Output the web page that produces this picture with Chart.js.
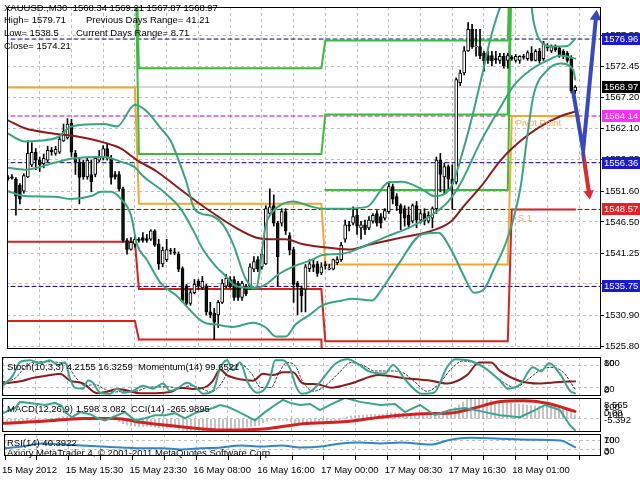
<!DOCTYPE html>
<html>
<head>
<meta charset="utf-8">
<script src="https://cdn.jsdelivr.net/npm/chart.js@4.4.1/dist/chart.umd.min.js"></script>
<style>
  body { margin:0; background:#fff; width:640px; height:480px; overflow:hidden; position:relative; }
  canvas { position:absolute; left:0; }
  .txt { position:absolute; font-family:Tahoma,"Liberation Sans",sans-serif; font-size:9.5px; color:#000; white-space:pre; line-height:12px; }
</style>
</head>
<body>
<canvas id="main" width="640" height="356" style="top:0px"></canvas>
<canvas id="stoch" width="640" height="41" style="top:356px"></canvas>
<canvas id="macd" width="640" height="36" style="top:397px"></canvas>
<canvas id="rsi" width="640" height="47" style="top:433px"></canvas>

<div class="txt" style="left:4px;top:2px">XAUUSD.,M30  1568.34 1569.21 1567.87 1568.97</div>
<div class="txt" style="left:4px;top:14px">High= 1579.71</div>
<div class="txt" style="left:86px;top:14px">Previous Days Range= 41.21</div>
<div class="txt" style="left:4px;top:27px">Low= 1538.5</div>
<div class="txt" style="left:76px;top:27px">Current Days Range= 8.71</div>
<div class="txt" style="left:4px;top:40px">Close= 1574.21</div>
<div class="txt" style="left:7px;top:361px">Stoch(10,3,3) 4.2155 16.3259  Momentum(14) 99.6521</div>
<div class="txt" style="left:7px;top:403px">MACD(12,26,9) 1.598 3.082  CCI(14) -265.9895</div>
<div class="txt" style="left:7px;top:437px">RSI(14) 40.3922</div>
<div class="txt" style="left:7px;top:447px">Axiory MetaTrader 4, © 2001-2011 MetaQuotes Software Corp.</div>

<script>
// ---- price data, M30 bars ----
const opens = [1553.9,1554.0,1553.6,1552.6,1551.6,1554.0,1556.0,1558.1,1556.8,1556.2,
  1556.8,1558.4,1557.9,1558.1,1560.0,1560.5,1562.9,1557.9,1556.5,1556.3,
  1554.0,1554.4,1554.4,1556.8,1557.1,1558.7,1557.1,1554.4,1554.4,1552.0,
  1543.4,1541.9,1542.8,1543.6,1543.9,1543.7,1543.6,1545.0,1542.8,1539.5,
  1540.2,1541.8,1541.5,1541.1,1538.7,1535.8,1532.9,1534.7,1536.6,1535.5,
  1535.8,1531.5,1531.3,1531.0,1533.1,1535.8,1536.9,1536.9,1536.3,1533.9,
  1535.8,1535.8,1538.6,1540.2,1539.0,1539.5,1547.9,1549.2,1546.3,1546.3,
  1548.2,1544.2,1541.9,1536.3,1535.5,1535.3,1538.7,1539.4,1539.5,1538.0,
  1539.4,1538.6,1538.6,1539.7,1540.2,1543.6,1546.0,1546.3,1547.6,1545.5,
  1546.0,1545.5,1546.6,1547.9,1547.4,1547.1,1548.2,1552.4,1550.7,1549.2,
  1548.7,1547.6,1546.6,1549.2,1546.8,1547.9,1546.6,1547.1,1548.7,1556.8,
  1554.0,1555.7,1553.6,1553.1,1569.7,1571.3,1575.0,1578.6,1575.7,1575.7,
  1574.6,1574.2,1574.2,1573.7,1573.4,1574.1,1573.4,1573.9,1573.4,1573.4,
  1574.1,1573.7,1574.6,1573.4,1574.9,1573.7,1575.7,1575.0,1575.7,1575.4,
  1574.9,1574.6,1573.7,1568.34];
const highs = [1554.2,1554.4,1553.9,1552.9,1554.5,1560.0,1559.7,1558.7,1557.3,1557.8,
  1559.1,1558.9,1559.1,1560.8,1562.8,1563.7,1563.6,1558.4,1557.1,1556.8,
  1557.1,1556.8,1557.4,1558.4,1559.2,1559.5,1557.6,1554.9,1554.9,1552.3,
  1543.7,1543.9,1544.2,1543.9,1544.7,1544.4,1545.2,1545.2,1543.6,1542.3,
  1543.6,1542.1,1542.1,1541.5,1539.0,1536.1,1535.3,1536.9,1536.9,1537.4,
  1536.1,1533.1,1532.1,1533.4,1536.9,1537.7,1537.4,1537.4,1536.6,1536.6,
  1536.1,1539.5,1540.7,1540.7,1541.9,1549.2,1552.0,1551.0,1546.6,1548.7,
  1548.7,1544.7,1542.3,1536.6,1535.8,1539.4,1540.2,1540.3,1539.9,1539.7,
  1539.9,1539.4,1540.3,1540.7,1543.1,1546.8,1546.6,1549.0,1548.7,1546.6,
  1546.8,1547.4,1547.9,1548.4,1547.9,1548.7,1553.1,1552.8,1551.2,1549.5,
  1549.2,1549.0,1549.5,1549.9,1548.4,1548.7,1548.2,1549.0,1557.3,1557.9,
  1556.3,1556.0,1556.0,1570.5,1571.8,1575.7,1579.71,1579.4,1578.6,1578.6,
  1574.9,1574.9,1574.9,1574.9,1574.6,1574.6,1574.6,1574.2,1574.4,1574.2,
  1574.4,1575.0,1575.7,1575.2,1575.4,1576.58,1576.2,1576.0,1576.0,1575.7,
  1575.2,1574.9,1574.2,1569.21];
const lows = [1553.4,1553.6,1547.6,1549.5,1551.3,1553.9,1555.7,1555.2,1554.9,1555.5,
  1556.5,1557.6,1557.6,1557.9,1559.9,1560.3,1557.4,1554.4,1549.5,1553.6,
  1553.6,1551.5,1554.0,1556.5,1556.8,1556.8,1552.8,1553.6,1551.6,1543.1,
  1541.1,1541.8,1542.3,1543.1,1543.1,1543.1,1543.4,1542.4,1538.6,1539.0,
  1539.9,1541.1,1541.0,1538.2,1533.1,1532.7,1532.6,1534.5,1535.3,1535.2,
  1531.0,1530.5,1526.9,1528.9,1532.9,1535.5,1535.5,1533.4,1533.4,1533.4,
  1534.2,1535.3,1538.2,1538.2,1538.6,1539.4,1547.6,1545.8,1535.8,1545.8,
  1544.4,1541.0,1533.1,1531.0,1531.5,1531.5,1538.2,1538.2,1537.4,1537.7,
  1538.6,1538.5,1538.5,1539.4,1539.9,1543.1,1545.0,1546.0,1544.4,1543.6,
  1544.4,1545.2,1546.3,1545.8,1545.5,1546.8,1547.9,1549.5,1548.4,1545.2,
  1545.8,1545.5,1546.3,1545.5,1546.3,1546.0,1546.3,1545.5,1547.9,1551.5,
  1551.2,1552.0,1548.7,1552.8,1569.2,1571.0,1574.9,1575.4,1574.1,1573.7,
  1571.6,1572.9,1572.5,1572.9,1572.9,1572.1,1572.1,1573.4,1573.1,1572.9,
  1573.6,1573.4,1573.3,1573.3,1572.9,1573.4,1575.0,1574.7,1574.9,1573.9,
  1573.7,1573.1,1568.0,1567.87];
const closes = [1553.7,1553.8,1550.8,1550.3,1554.2,1557.9,1558.1,1556.8,1556.0,1557.1,
  1558.4,1558.2,1558.6,1560.3,1561.6,1562.8,1558.1,1556.5,1553.9,1554.0,
  1556.8,1553.2,1557.1,1557.3,1558.7,1557.3,1553.9,1554.0,1552.0,1543.4,
  1541.9,1543.1,1543.6,1543.4,1543.4,1543.4,1545.0,1542.6,1539.5,1541.8,
  1541.9,1541.6,1541.3,1538.6,1533.4,1532.9,1534.7,1536.1,1535.8,1536.6,
  1531.5,1531.0,1529.8,1533.1,1536.3,1537.1,1535.8,1533.9,1533.9,1536.3,
  1534.5,1539.0,1539.9,1538.6,1541.1,1548.7,1549.0,1546.3,1540.7,1548.2,
  1545.0,1541.8,1536.1,1535.7,1534.2,1539.0,1539.5,1538.9,1537.9,1539.0,
  1539.2,1538.8,1540.2,1540.2,1542.6,1546.0,1545.8,1547.4,1545.8,1546.0,
  1545.2,1546.8,1547.6,1546.3,1546.3,1548.4,1552.4,1550.3,1549.2,1547.9,
  1547.1,1546.0,1549.2,1546.8,1547.9,1546.6,1547.6,1548.7,1556.8,1554.4,
  1555.7,1553.6,1552.8,1570.2,1571.3,1575.0,1578.6,1575.7,1575.8,1574.2,
  1573.3,1573.4,1573.3,1573.5,1574.1,1572.5,1574.21,1573.7,1574.1,1574.1,
  1573.9,1574.7,1573.4,1574.9,1573.3,1576.2,1575.5,1575.7,1575.2,1574.2,
  1574.1,1573.4,1568.34,1568.97];

// ---- indicator lines on the price chart: [bar, price] ----
const bandUpper = [[0,1561.2],[4.25,1559.9],[7.5,1560.0],[12.5,1560.6],[16,1562.4],[24.25,1562.8],[27.5,1562.4],
  [32,1566.0],[35,1564.9],[38.5,1562.1],[41,1560.0],[43,1556.8],[45,1553.1],[46.75,1549.0],[48.5,1547.9],
  [51.75,1547.4],[54.25,1546.0],[56.75,1542.8],[60,1536.9],[62.5,1535.5],[65,1546.0],[66.75,1548.2],
  [69.25,1549.5],[71.75,1549.9],[76.75,1549.0],[79.25,1548.7],[84.25,1548.7],[90.5,1549.0],[96,1553.1],
  [99.25,1553.2],[104.25,1552.0],[107.5,1550.8],[111.75,1552.4],[114.25,1557.3],[116.75,1563.3],
  [119.25,1570.2],[121.75,1577.3],[124.25,1582.6],[128,1587.5],[131.75,1583.4],[132.5,1579.9],
  [134.25,1576.6],[137.5,1575.7],[141,1575.8],[143,1577.0]];
const bandMiddle = [[0,1555.5],[4.25,1555.2],[12.5,1556.5],[16.75,1557.1],[24.25,1557.3],[28.5,1556.5],
  [31.75,1555.7],[34.25,1554.0],[39.25,1551.5],[43.5,1548.7],[46.75,1545.0],[49.25,1541.8],[52.5,1539.0],
  [54.25,1537.9],[57.5,1535.8],[61.75,1535.5],[64.25,1535.8],[68.5,1537.9],[71.75,1539.0],[76.75,1540.2],
  [79.25,1541.0],[84.25,1541.2],[91,1542.8],[96,1544.2],[101,1545.5],[106.75,1547.6],[111,1549.9],
  [114.25,1553.1],[119.25,1560.0],[123.5,1564.9],[127.5,1569.2],[131.75,1571.8],[136,1573.4],
  [139.25,1574.2],[143,1573.7]];
const bandLower = [[0,1551.6],[4.25,1550.8],[11.75,1550.7],[16,1550.3],[21,1550.8],[23.5,1551.5],[26,1551.5],
  [28.5,1550.3],[31,1547.6],[32.5,1542.8],[35,1540.2],[38.5,1536.3],[42.5,1534.2],[49.25,1529.8],
  [52.5,1529.4],[56.75,1529.0],[61.75,1529.7],[65,1528.9],[67.5,1527.4],[70,1527.4],[72.5,1529.4],
  [76,1531.0],[79.25,1532.6],[84.25,1533.4],[86.75,1533.7],[91.75,1533.4],[94.25,1535.3],[98.5,1539.5],
  [104.25,1544.4],[108.5,1544.7],[111.75,1541.8],[115,1537.4],[117.5,1534.7],[120,1535.3],[122.5,1538.6],
  [126,1543.9],[129.25,1552.4],[131,1561.2],[132.5,1567.6],[136,1571.8],[139.25,1572.9],[142.5,1571.8],
  [143,1570.2]];
const movingAvg = [[0,1563.4],[4.25,1562.1],[11.75,1561.2],[16.75,1560.8],[24.25,1559.7],[28.5,1558.7],
  [32.5,1556.8],[37.5,1554.9],[42.5,1552.4],[47.5,1549.9],[52.5,1547.6],[57.5,1545.5],[62.5,1543.9],
  [66,1543.6],[70,1543.6],[74.25,1542.8],[79.25,1542.3],[86,1541.9],[91.75,1542.8],[100,1544.0],
  [106.75,1545.0],[111.75,1546.6],[115,1549.2],[119.25,1552.4],[124.25,1556.8],[129.25,1560.0],
  [134.25,1562.4],[139.25,1564.1],[143,1564.9]];

// daily pivot levels, day breaks after bars 32, 79, 126
const pivotPP = [[0,1568.9],[32,1568.9],[33,1549.5],[79,1549.5],[80,1539.4],[126,1539.4],[127,1564.14],[143,1564.14]];
const pivotS1 = [[0,1543.2],[32,1543.2],[33,1535.3],[79,1535.3],[80,1526.6],[126,1526.6],[127,1548.57],[143,1548.57]];
const pivotS2 = [[0,1530.0],[32,1530.0],[33,1526.9],[79,1526.9],[80,1510.0]];
const pivotR1 = [[32,1595.0],[33,1557.8],[79,1557.8],[80,1564.4],[126,1564.4],[127,1595.0]];
const pivotR2 = [[32,1600.0],[33,1572.1],[79,1572.1],[80,1576.7],[126,1576.7],[127,1600.0]];
const pivotM3 = [[80,1551.8],[126,1551.8],[127,1590.0]];

const levelPrices = [1576.96, 1568.97, 1564.14, 1556.36, 1548.57, 1535.75];
const arrowUp = [[142.5,1568.1],[145,1558.4],[148.25,1580.7]];
const arrowDown = [[145,1557.9],[146.5,1551.2]];

const priceTicks = [1525.80,1530.90,1536.15,1541.25,1546.50,1551.60,1556.85,1562.10,1567.20,1572.45,1577.55];
const timeLabels = ['15 May 2012','15 May 15:30','15 May 23:30','16 May 08:00','16 May 16:00','17 May 00:00','17 May 08:30','17 May 16:30','18 May 01:00'];
const timeLabelBars = [0,16,32,48,64,80,96,112,128];

// ---- sub windows ----
const stochMain = [[0,25],[2.5,53],[4.25,89],[6.75,94],[9.25,86],[11.75,94],[13.75,81],[15.5,89],[16.75,44],[18,19],
  [20,17],[21.25,39],[22.5,33],[24.25,6],[26.75,3],[28.5,17],[30,6],[32.5,11],[35,25],[37.5,17],[40,31],[41.75,11],
  [43.5,17],[46,33],[48.5,17],[50,3],[52.5,11],[54.25,72],[56,94],[57.5,67],[59.25,89],[61.25,33],[63.5,6],[65,11],
  [66.75,44],[68,94],[70,94],[71.75,72],[73.5,17],[74.75,3],[76.75,8],[78.5,25],[83.25,86],[86.25,97],[88.5,86],
  [91.5,64],[95.5,58],[97.5,81],[100.75,39],[104.75,3],[107.75,6],[111,75],[113,97],[117,92],[120.25,75],[124.25,39],
  [126.25,17],[129.25,28],[132.5,75],[134.5,64],[136.5,86],[139.5,53],[141.75,11],[143,4.2]];
const stochSignal = [[0,35],[3,45],[5.5,75],[8,90],[11,90],[14,88],[16,82],[18,50],[20.5,25],[23,28],[25.5,15],[28,8],
  [30.5,10],[33,10],[36,20],[39,22],[41.5,22],[44,17],[47,25],[49.5,18],[52,8],[54.5,30],[57,75],[59.5,82],[62,60],
  [64.5,20],[67,20],[69,60],[71,88],[73,80],[75,35],[77.5,10],[80,20],[84,60],[87,88],[90,80],[93,65],[97,65],[100,60],
  [103,35],[106,10],[109,30],[112,70],[115,92],[119,82],[122,60],[125,35],[128,20],[131,40],[134,65],[137,75],[140,62],[143,16.3]];
const momentum = [[0,99.5],[5,99.7],[7.5,99.9],[12,100.1],[14.25,100.2],[16.75,99.7],[20,99.5],[23.5,98.8],[26,98.9],
  [28.5,99.1],[31,99.0],[34.25,98.8],[38,98.8],[42,98.9],[44.25,99.2],[47.5,99.1],[51,99.3],[52.5,99.7],[54.25,100.5],
  [56,100.1],[59.25,99.8],[62.5,99.7],[65,100.2],[67.5,100.1],[70,100.3],[72.5,100.3],[75,99.5],[78.5,99.45],[82,99.2],
  [87,99.5],[94,100.1],[100,99.9],[107,99.7],[111,99.5],[116,100.1],[119,101.0],[122,101.0],[124.25,100.4],[129,99.7],
  [134,99.5],[139,99.6],[143,99.65]];
const macdMain = [-1.2,-1.0,-1.1,-1.3,-1.2,-0.9,-0.6,-0.4,-0.3,-0.2,
  -0.1,0.0,0.1,0.3,0.6,0.9,0.8,0.6,0.3,0.1,
  0.0,-0.1,0.0,0.1,0.3,0.3,0.1,-0.1,-0.4,-1.2,
  -2.0,-2.6,-2.9,-3.1,-3.2,-3.2,-3.1,-3.2,-3.5,-3.6,
  -3.6,-3.6,-3.6,-3.8,-4.3,-4.7,-4.8,-4.8,-4.7,-4.7,
  -5.0,-5.2,-5.4,-5.2,-4.8,-4.4,-4.2,-4.1,-4.0,-3.8,
  -3.7,-3.4,-3.1,-2.9,-2.6,-1.6,-0.9,-0.5,-0.6,-0.5,
  -0.5,-0.7,-1.3,-1.7,-2.0,-1.8,-1.6,-1.4,-1.3,-1.2,
  -1.0,-0.9,-0.7,-0.6,-0.3,0.3,0.7,1.1,1.3,1.4,
  1.5,1.7,1.8,1.8,1.8,1.9,2.3,2.5,2.5,2.4,
  2.3,2.1,2.1,2.0,1.9,1.8,1.7,1.7,2.3,2.7,
  3.0,3.1,3.1,4.6,5.8,6.9,7.9,8.3,8.4,8.3,
  8.1,7.9,7.6,7.3,7.1,6.9,6.7,6.5,6.3,6.1,
  5.9,5.7,5.5,5.4,5.2,5.1,5.0,4.8,4.6,4.4,
  4.1,3.8,2.6,1.598];
const macdSignal = [[0,-1.8],[10,-1.0],[20,0.2],[28,0.2],[35,-1.5],[45,-3.3],[55,-4.6],[65,-4.2],[75,-2.0],[85,-1.2],
  [95,0.8],[105,2.1],[112,2.4],[118,4.5],[124,7.0],[130,7.4],[136,6.4],[143,3.082]];
const cci = [[0,49],[3,144],[4.25,258],[6.75,239],[10.5,201],[13,239],[14.75,182],[15.5,68],[17.25,-27],[19.25,68],
  [21.75,30],[23.75,-46],[25.5,-84],[28,-8],[30.5,68],[33,-84],[35.5,-46],[38,11],[40.5,11],[43,49],[45.5,-46],
  [48,49],[50.5,106],[52.5,144],[54.25,201],[56.25,163],[58,106],[60.5,11],[63,-84],[65.5,68],[68,201],[70,296],
  [71.75,239],[74.25,201],[76.75,220],[79.25,106],[81.75,201],[85.5,334],[89.25,258],[94.25,201],[98,220],[100.5,68],
  [104.25,201],[108,11],[111.75,106],[115.5,144],[120.5,68],[124.25,11],[129.25,-27],[133,106],[135.5,201],
  [139.25,106],[141.75,-179],[143,-266]];
const rsi = [[0,35],[4.25,43],[9.25,57],[14.25,52],[19.25,48],[24.25,43],[29.25,39],[34.25,35],[39.25,35],[44.25,30],
  [49.25,35],[54.25,39],[59.25,48],[64.25,43],[69.25,48],[74.25,39],[79.25,43],[84.25,57],[89.25,61],[94.25,57],
  [99.25,61],[106.75,52],[111.75,74],[116.75,83],[124.25,78],[131.75,74],[139.25,70],[143,40.4]];

// ---- styles ----
const FONT = 'Tahoma, "Liberation Sans", sans-serif';
const axisFont = {family: FONT, size: 9.5};
const GRID = '#c0c0c0';
const levelStyles = [
  {line:'#000080', dash:[4,3], box:'#1a1ad0', text:'#fff'},
  {line:'#b0b0b0', dash:[],    box:'#000000', text:'#fff'},
  {line:'#c000c0', dash:[4,3], box:'#ff30ff', text:'#fff'},
  {line:'#000080', dash:[4,3], box:'#1a1ad0', text:'#fff'},
  {line:'#a00000', dash:[4,3], box:'#e82020', text:'#fff'},
  {line:'#000080', dash:[4,3], box:'#1a1ad0', text:'#fff'}
];
const gridBars = [];
for (let b = 0; b <= 144; b += 8) gridBars.push(b);

function pts(arr) { return arr.map(p => ({x: p[0], y: p[1]})); }

function xAxis(showLabels) {
  return {
    type: 'linear', min: -0.25, max: 149.5, offset: false,
    afterBuildTicks: s => { s.ticks = gridBars.map(v => ({value: v})); },
    afterFit: showLabels ? undefined : s => { s.height = 0; },
    ticks: {
      display: showLabels, autoSkip: false, maxRotation: 0, minRotation: 0, align: 'start',
      color: '#000', font: axisFont, padding: 5, labelOffset: -3,
      callback: v => { const k = timeLabelBars.indexOf(v); return k >= 0 ? timeLabels[k] : ''; }
    },
    grid: {color: GRID, drawTicks: showLabels, tickLength: 4, tickColor: '#000', offset: false},
    border: {display: false, dash: [3, 3]}
  };
}

function hiddenAxis(min, max) {
  return {position: 'right', display: false, min: min, max: max};
}

const frame = {
  id: 'frame',
  afterDraw(chart, args, opts) {
    const {ctx, chartArea: a} = chart;
    ctx.save();
    ctx.strokeStyle = '#000';
    ctx.lineWidth = 1;
    ctx.strokeRect(a.left + 0.5, a.top + 0.5, a.right - a.left - 1, a.bottom - a.top - 1);
    ctx.font = '9.5px ' + FONT;
    ctx.textBaseline = 'middle';
    (opts.side || []).forEach(t => { ctx.fillStyle = '#000'; ctx.fillText(t[0], 604, t[1]); });
    (opts.marks || []).forEach(m => {
      ctx.fillStyle = m.color;
      ctx.fillText(m.text, chart.scales.x.getPixelForValue(m.x), chart.scales.y.getPixelForValue(m.y));
    });
    (opts.levels || []).forEach((v, i) => {
      const y = Math.round(chart.scales.y.getPixelForValue(v));
      ctx.fillStyle = levelStyles[i].box;
      ctx.fillRect(602, y - 6, 38, 12);
      ctx.fillStyle = levelStyles[i].text;
      ctx.fillText(v.toFixed(2), 604, y);
    });
    ctx.restore();
  }
};

const base = {
  responsive: false, animation: false, events: [],
  plugins: {legend: {display: false}, tooltip: {enabled: false}},
  elements: {point: {radius: 0}, line: {borderCapStyle: 'round'}}
};

function line(data, color, width, extra) {
  return Object.assign({type: 'line', data: pts(data), borderColor: color, borderWidth: width,
    pointRadius: 0, fill: false, order: 2}, extra || {});
}

// ---- main price chart ----
const mainSets = [];
levelPrices.forEach((v, i) => {
  mainSets.push(line([[-1, v], [150, v]], levelStyles[i].line, 1, {borderDash: levelStyles[i].dash, order: 9}));
});
mainSets.push(line(pivotR2, '#3cbc3c', 2, {order: 8}));
mainSets.push(line(pivotR1, '#3cbc3c', 2, {order: 8}));
mainSets.push(line(pivotM3, '#3cbc3c', 2, {order: 8}));
mainSets.push(line(pivotPP, '#f0a830', 2, {order: 8}));
mainSets.push(line(pivotS1, '#d82020', 2, {order: 8}));
mainSets.push(line(pivotS2, '#d82020', 2, {order: 8}));
mainSets.push({type: 'bar', data: opens.map((o, i) => ({x: i, y: [lows[i], highs[i]]})),
  backgroundColor: '#000', barThickness: 1, grouped: false, order: 4});
mainSets.push({type: 'bar', data: opens.map((o, i) => ({x: i, y: [o, closes[i]]})),
  backgroundColor: c => closes[c.dataIndex] >= opens[c.dataIndex] ? '#ffffff' : '#0a160a',
  borderColor: '#000', borderWidth: 1, borderSkipped: false, barThickness: 3, grouped: false, order: 3});
mainSets.push(line(bandUpper, '#3aa57c', 2, {cubicInterpolationMode: 'monotone', order: 1}));
mainSets.push(line(bandMiddle, '#3aa57c', 2, {cubicInterpolationMode: 'monotone', order: 1}));
mainSets.push(line(bandLower, '#3aa57c', 2, {cubicInterpolationMode: 'monotone', order: 1}));
mainSets.push(line(movingAvg, '#8c1c1c', 2, {cubicInterpolationMode: 'monotone', order: 1}));
mainSets.push(line(arrowUp, '#3848c0', 4, {order: 0, pointStyle: 'triangle',
  pointRadius: [0, 0, 7], pointRotation: 5, pointBackgroundColor: '#3848c0', pointBorderWidth: 0}));
mainSets.push(line(arrowDown, '#e02828', 4, {order: 0, pointStyle: 'triangle',
  pointRadius: [0, 6], pointRotation: 172, pointBackgroundColor: '#e02828', pointBorderWidth: 0}));

new Chart(document.getElementById('main'), {
  type: 'line',
  data: {datasets: mainSets},
  options: Object.assign({}, base, {
    layout: {padding: {left: 2, top: 2, right: 0, bottom: 1}},
    scales: {
      x: xAxis(false),
      y: {
        position: 'right', min: 1525.32, max: 1582.30,
        afterFit: s => { s.width = 39; },
        afterBuildTicks: s => { s.ticks = priceTicks.map(v => ({value: v})); },
        ticks: {color: '#000', font: axisFont, padding: 1, callback: v => v.toFixed(2)},
        grid: {color: GRID, tickColor: '#000', tickLength: 3},
        border: {display: false, dash: [3, 3]}
      }
    },
    plugins: Object.assign({}, base.plugins, {
      frame: {
        levels: levelPrices,
        marks: [{text: 'Pivot Point', x: 128, y: 1562.9, color: '#e8b060'}, {text: 'S 1', x: 128.5, y: 1547.0, color: '#e8b060'}]
      }
    })
  }),
  plugins: [frame]
});

// ---- sub windows ----
function subChart(id, sets, yMain, yExtra, side, showTime, pad) {
  const scales = {x: xAxis(showTime), y: yMain};
  if (yExtra) scales.y2 = yExtra;
  new Chart(document.getElementById(id), {
    type: 'line',
    data: {datasets: sets},
    options: Object.assign({}, base, {
      layout: {padding: pad},
      scales: scales,
      plugins: Object.assign({}, base.plugins, {frame: {side: side}})
    }),
    plugins: [frame]
  });
}

function levelAxis(min, max, levels) {
  return {
    position: 'right', min: min, max: max,
    afterFit: s => { s.width = 39; },
    afterBuildTicks: s => { s.ticks = levels.map(v => ({value: v})); },
    ticks: {display: false},
    grid: {color: GRID, drawTicks: false},
    border: {display: false, dash: [3, 3]}
  };
}

subChart('stoch', [
  line(stochMain, '#3aa58c', 2, {cubicInterpolationMode: 'monotone'}),
  line(stochSignal, '#303030', 1, {borderDash: [2, 2], cubicInterpolationMode: 'monotone'}),
  line(momentum, '#8c1c1c', 2, {yAxisID: 'y2', cubicInterpolationMode: 'monotone'})
], levelAxis(-3, 103, [20, 80]), hiddenAxis(98.6, 101.4),
  [['100', 7], ['80', 7], ['20', 33], ['0', 34]], false, {left: 2, top: 1, right: 0, bottom: 1});

subChart('macd', [
  {type: 'bar', data: macdMain.map((v, i) => ({x: i, y: v})), backgroundColor: '#b8b8b8',
    barThickness: 1, grouped: false, order: 3},
  line(macdSignal, '#d42020', 3, {cubicInterpolationMode: 'monotone'}),
  line(cci, '#3aa58c', 2, {yAxisID: 'y2', order: 1})
], levelAxis(-5.392, 8.565, [0]), hiddenAxis(-300, 330),
  [['8.565', 8], ['100', 10], ['0.00', 16], ['-100', 18], ['-5.392', 23]], false, {left: 2, top: 1, right: 0, bottom: 1});

subChart('rsi', [
  line(rsi, '#2f86c8', 2, {cubicInterpolationMode: 'monotone'})
], levelAxis(0, 100, [30, 70]), null,
  [['100', 7], ['70', 7], ['30', 18], ['0', 19]], true, {left: 2, top: 1, right: 0, bottom: 2});
</script>
</body>
</html>
